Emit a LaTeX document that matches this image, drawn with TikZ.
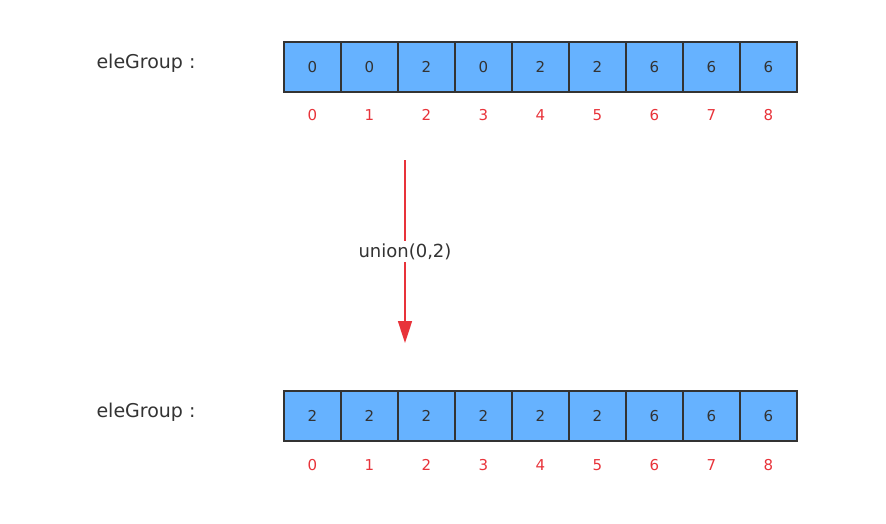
\documentclass[tikz,border=0pt]{standalone}
\usepackage{fontspec}
\setmainfont{DejaVu Sans}
\usetikzlibrary{arrows.meta}
\definecolor{cellblue}{HTML}{66B2FF}
\definecolor{idxred}{HTML}{E8333A}
\definecolor{txt}{HTML}{333333}
\tikzset{
  cell/.style={draw=txt, line width=1.6pt, fill=cellblue, minimum width=57pt, minimum height=50pt, inner sep=0pt, text=txt, font=\fontsize{15}{18}\selectfont},
  idx/.style={text=idxred, font=\fontsize{15}{18}\selectfont},
  lbl/.style={text=txt, font=\fontsize{19}{22}\selectfont}
}
\begin{document}
\begin{tikzpicture}[x=1pt,y=-1pt]
\useasboundingbox (0,0) rectangle (886,523);
\node[lbl, anchor=west] (l1) at (93,63) {eleGroup :};
\node[lbl, anchor=west] (l2) at (93,412) {eleGroup :};
\foreach \v [count=\i from 0] in {0,0,2,0,2,2,6,6,6} {
  \node[cell] (a\i) at (312.5+57*\i,67) {\v};
  \node[idx] (ai\i) at (312.5+57*\i,115) {\i};
}
\foreach \v [count=\i from 0] in {2,2,2,2,2,2,6,6,6} {
  \node[cell] (b\i) at (312.5+57*\i,416) {\v};
  \node[idx] (bi\i) at (312.5+57*\i,465) {\i};
}
\coordinate (s) at (405,160);
\coordinate (e) at (405,343);
\draw[idxred, line width=1.6pt, -{Triangle[length=22pt,width=14pt]}] (s) -- (e)
  node[pos=0.5, fill=white, text=txt, font=\fontsize{18}{22}\selectfont, inner sep=2pt] (u) {union(0,2)};
\end{tikzpicture}
\end{document}
